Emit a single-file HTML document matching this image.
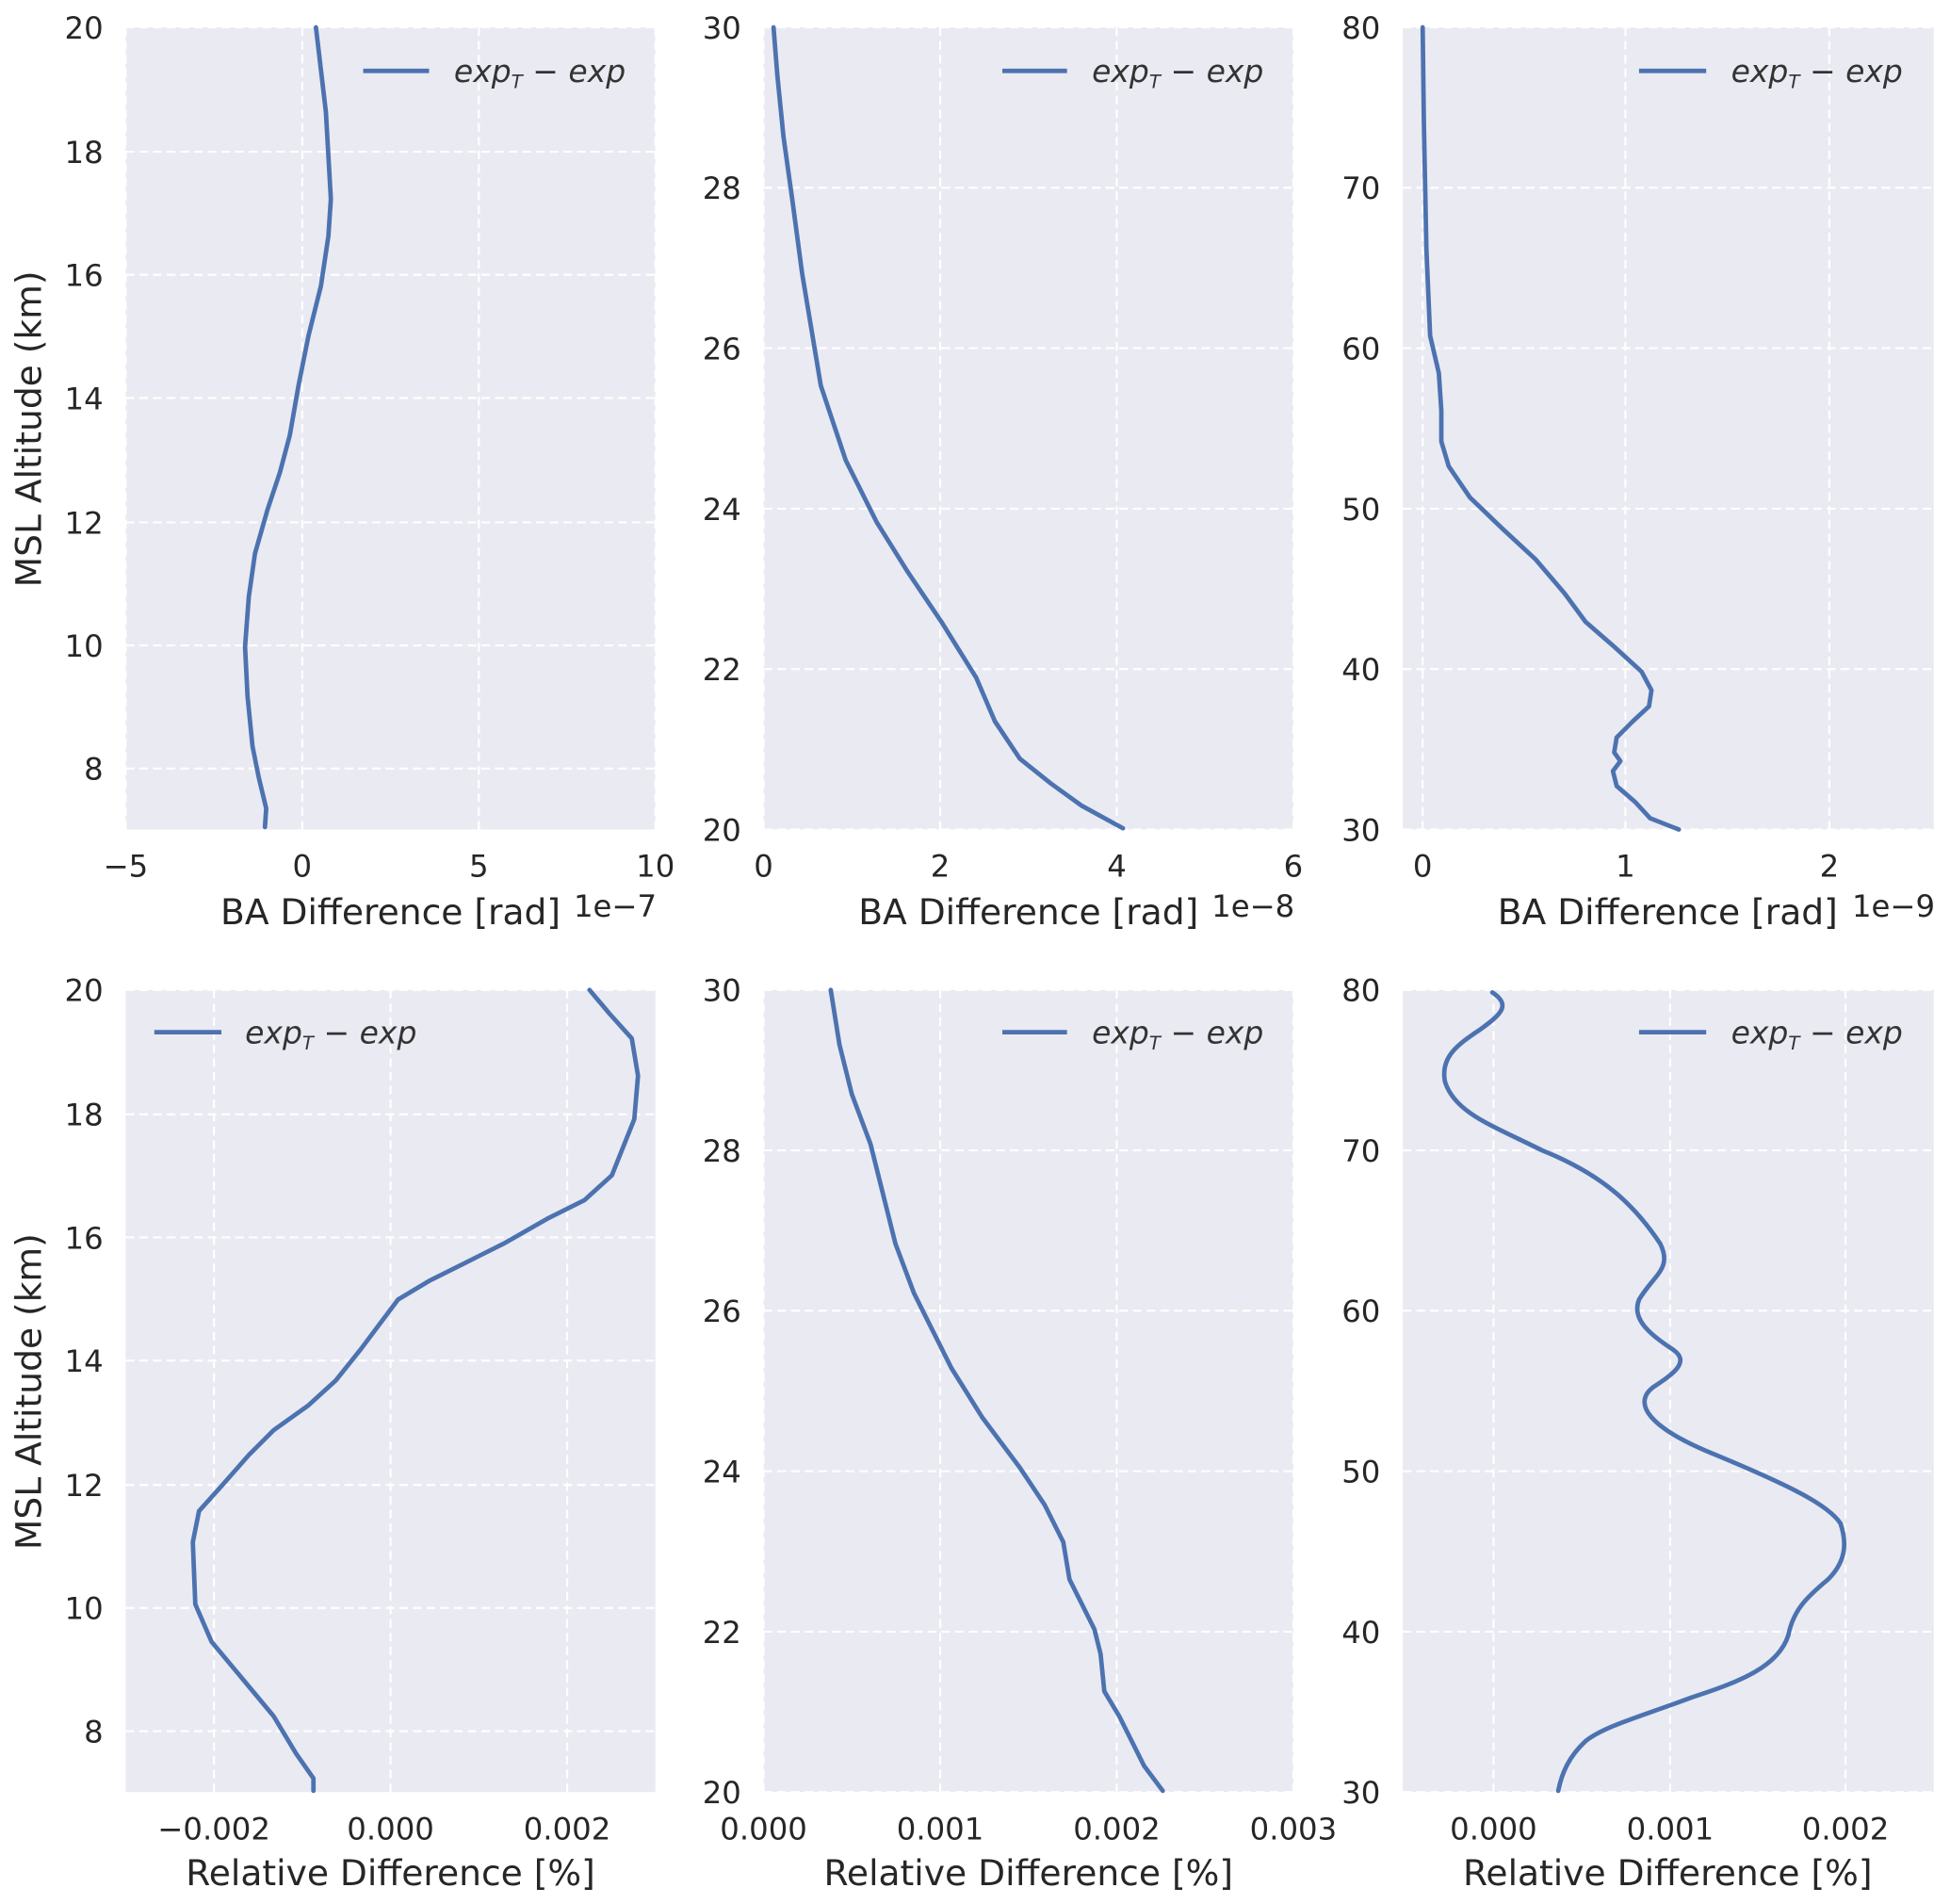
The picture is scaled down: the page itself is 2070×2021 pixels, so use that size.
<!DOCTYPE html>
<html><head><meta charset="utf-8"><style>
html,body{margin:0;padding:0;background:#fff;}
svg{display:block;}
text{font-family:"DejaVu Sans","Liberation Sans",sans-serif;fill:#262626;}
.t{font-size:24.5px;}
.l{font-size:28.5px;}
.g{stroke:#fff;stroke-width:1.6;stroke-dasharray:7,4;fill:none;}
.c{stroke:#4c72b0;stroke-width:3.6;fill:none;stroke-linejoin:round;stroke-linecap:round;}
.lg{font-size:25px;font-style:italic;fill:#333;}
</style></head><body>
<svg width="2070" height="2021" viewBox="0 0 1568 1531" xmlns="http://www.w3.org/2000/svg">
<rect x="101" y="22" width="426" height="645" fill="#eaeaf2"/>
<rect x="614" y="22" width="426" height="645" fill="#eaeaf2"/>
<rect x="1128" y="22" width="427" height="645" fill="#eaeaf2"/>
<rect x="101" y="796" width="426" height="645" fill="#eaeaf2"/>
<rect x="614" y="796" width="426" height="645" fill="#eaeaf2"/>
<rect x="1128" y="796" width="427" height="645" fill="#eaeaf2"/>

<path class="g" d="M101 22V667M243 22V667M385 22V667M527 22V667M101 618H527M101 519H527M101 420H527M101 320H527M101 221H527M101 122H527M101 22H527"/>
<path class="g" d="M614 22V667M756 22V667M898 22V667M1040 22V667M614 667H1040M614 538H1040M614 409H1040M614 280H1040M614 151H1040M614 22H1040"/>
<path class="g" d="M1144 22V667M1307 22V667M1471 22V667M1128 667H1555M1128 538H1555M1128 409H1555M1128 280H1555M1128 151H1555M1128 22H1555"/>
<path class="g" d="M172 796V1441M314 796V1441M456 796V1441M101 1392H527M101 1293H527M101 1194H527M101 1094H527M101 995H527M101 896H527M101 796H527"/>
<path class="g" d="M614 796V1441M756 796V1441M898 796V1441M1040 796V1441M614 1441H1040M614 1312H1040M614 1183H1040M614 1054H1040M614 925H1040M614 796H1040"/>
<path class="g" d="M1201 796V1441M1343 796V1441M1484 796V1441M1128 1441H1555M1128 1312H1555M1128 1183H1555M1128 1054H1555M1128 925H1555M1128 796H1555"/>

<polyline class="c" points="254,22 262,90 266,160 264,190 258,230 248,270 240,310 233,350 225,380 215,410 205,445 200,480 197,520 199,560 203,600 208,625 214,650 213,665"/>
<polyline class="c" points="622,22 625,60 630,110 637,160 645,220 660,310 680,370 705,420 730,460 757,500 785,545 800,580 820,610 845,630 870,648 903,666"/>
<polyline class="c" points="1144,22 1145,100 1147,200 1150,270 1157,300 1159,330 1159,355 1165,375 1182,400 1208,425 1235,450 1258,477 1275,500 1298,520 1320,540 1328,555 1326,568 1313,580 1300,593 1298,605 1303,612 1297,620 1300,632 1315,645 1327,658 1350,667"/>
<polyline class="c" points="474,796 490,815 508,835 513,865 510,900 500,925 492,945 470,965 440,980 405,1000 375,1015 345,1030 320,1045 305,1065 290,1085 270,1110 248,1130 220,1150 200,1170 178,1195 160,1215 155,1240 157,1290 170,1320 195,1350 220,1380 238,1410 252,1430 252,1440"/>
<polyline class="c" points="668,796 675,840 685,880 700,920 710,960 720,1000 735,1040 750,1070 765,1100 790,1140 820,1180 840,1210 855,1240 860,1270 870,1290 880,1310 885,1330 888,1360 900,1380 910,1400 920,1420 935,1440"/>
<path class="c" d="M1200,798 C1215,808 1208,815 1190,828 C1172,840 1158,850 1162,870 C1170,895 1200,905 1240,925 C1290,945 1315,970 1335,1000 C1345,1020 1330,1025 1318,1045 C1312,1060 1325,1072 1345,1085 C1360,1095 1345,1105 1330,1115 C1312,1128 1325,1148 1380,1170 C1440,1195 1470,1210 1480,1225 C1485,1240 1485,1255 1470,1270 C1452,1285 1442,1295 1438,1315 C1430,1340 1400,1352 1360,1365 C1320,1380 1290,1388 1275,1400 C1262,1412 1256,1425 1253,1440"/>

<g><line x1="292" y1="57" x2="345" y2="57" stroke="#4c72b0" stroke-width="3.6"/><text class="lg" x="365" y="66">exp<tspan font-size="15" dy="5">T</tspan><tspan dy="-5"> − exp</tspan></text></g>
<g><line x1="806" y1="57" x2="858" y2="57" stroke="#4c72b0" stroke-width="3.6"/><text class="lg" x="878" y="66">exp<tspan font-size="15" dy="5">T</tspan><tspan dy="-5"> − exp</tspan></text></g>
<g><line x1="1318" y1="57" x2="1372" y2="57" stroke="#4c72b0" stroke-width="3.6"/><text class="lg" x="1392" y="66">exp<tspan font-size="15" dy="5">T</tspan><tspan dy="-5"> − exp</tspan></text></g>
<g><line x1="124" y1="830" x2="178" y2="830" stroke="#4c72b0" stroke-width="3.6"/><text class="lg" x="197" y="839">exp<tspan font-size="15" dy="5">T</tspan><tspan dy="-5"> − exp</tspan></text></g>
<g><line x1="806" y1="830" x2="858" y2="830" stroke="#4c72b0" stroke-width="3.6"/><text class="lg" x="878" y="839">exp<tspan font-size="15" dy="5">T</tspan><tspan dy="-5"> − exp</tspan></text></g>
<g><line x1="1318" y1="830" x2="1372" y2="830" stroke="#4c72b0" stroke-width="3.6"/><text class="lg" x="1392" y="839">exp<tspan font-size="15" dy="5">T</tspan><tspan dy="-5"> − exp</tspan></text></g>

<g class="t" text-anchor="end">
<text x="83" y="31">20</text><text x="83" y="131">18</text><text x="83" y="230">16</text><text x="83" y="329">14</text><text x="83" y="429">12</text><text x="83" y="528">10</text><text x="83" y="627">8</text>
<text x="596" y="31">30</text><text x="596" y="160">28</text><text x="596" y="289">26</text><text x="596" y="418">24</text><text x="596" y="547">22</text><text x="596" y="676">20</text>
<text x="1110" y="31">80</text><text x="1110" y="160">70</text><text x="1110" y="289">60</text><text x="1110" y="418">50</text><text x="1110" y="547">40</text><text x="1110" y="676">30</text>
<text x="83" y="805">20</text><text x="83" y="905">18</text><text x="83" y="1004">16</text><text x="83" y="1103">14</text><text x="83" y="1203">12</text><text x="83" y="1302">10</text><text x="83" y="1401">8</text>
<text x="596" y="805">30</text><text x="596" y="934">28</text><text x="596" y="1063">26</text><text x="596" y="1192">24</text><text x="596" y="1321">22</text><text x="596" y="1450">20</text>
<text x="1110" y="805">80</text><text x="1110" y="934">70</text><text x="1110" y="1063">60</text><text x="1110" y="1192">50</text><text x="1110" y="1321">40</text><text x="1110" y="1450">30</text>
</g>
<g class="t" text-anchor="middle">
<text x="101" y="705">−5</text><text x="243" y="705">0</text><text x="385" y="705">5</text><text x="527" y="705">10</text>
<text x="614" y="705">0</text><text x="756" y="705">2</text><text x="898" y="705">4</text><text x="1040" y="705">6</text>
<text x="1144" y="705">0</text><text x="1307" y="705">1</text><text x="1471" y="705">2</text>
<text x="172" y="1479">−0.002</text><text x="314" y="1479">0.000</text><text x="456" y="1479">0.002</text>
<text x="614" y="1479">0.000</text><text x="756" y="1479">0.001</text><text x="898" y="1479">0.002</text><text x="1040" y="1479">0.003</text>
<text x="1201" y="1479">0.000</text><text x="1343" y="1479">0.001</text><text x="1484" y="1479">0.002</text>
</g>
<g class="l" text-anchor="middle">
<text x="314" y="743">BA Difference [rad]</text>
<text x="827" y="743">BA Difference [rad]</text>
<text x="1341" y="743">BA Difference [rad]</text>
<text x="314" y="1516">Relative Difference [%]</text>
<text x="827" y="1516">Relative Difference [%]</text>
<text x="1341" y="1516">Relative Difference [%]</text>
<text transform="translate(33,345) rotate(-90)">MSL Altitude (km)</text>
<text transform="translate(33,1119) rotate(-90)">MSL Altitude (km)</text>
</g>
<g class="t" text-anchor="end">
<text x="528" y="737">1e−7</text><text x="1041" y="737">1e−8</text><text x="1556" y="737">1e−9</text>
</g>
</svg>
</body></html>
